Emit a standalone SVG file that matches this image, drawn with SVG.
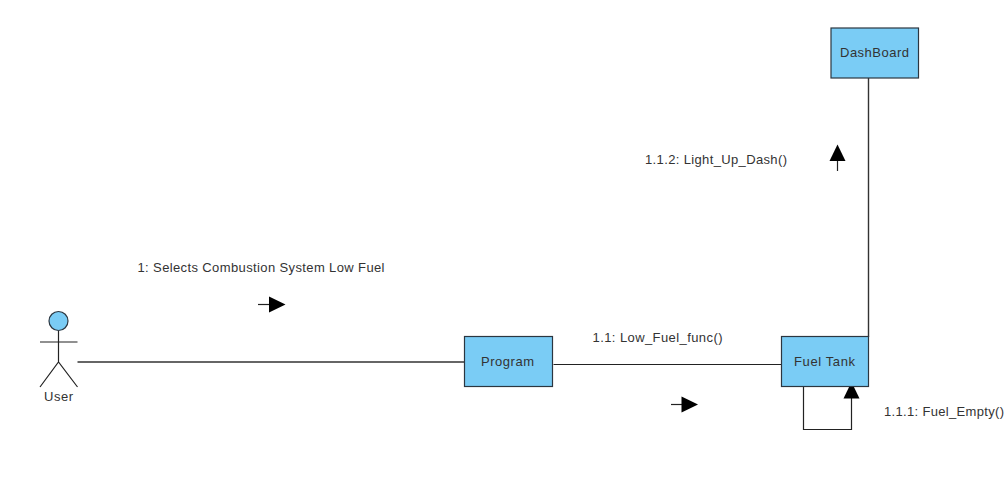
<svg xmlns="http://www.w3.org/2000/svg" width="1008" height="477" viewBox="0 0 1008 477">
<style>
text{font-family:"Liberation Sans",Arial,sans-serif;font-size:13px;fill:#333}
.n{fill:#7accf5;stroke:#2b3640;stroke-width:1.2}
.l{fill:none;stroke:#333;stroke-width:1.4}
.k{fill:none;stroke:#222;stroke-width:1.2}
.a{fill:#000;stroke:none}
</style>
<rect width="1008" height="477" fill="#fff"/>
<g id="connectors">
<path class="l" d="M77.500 362H464.500"/>
<path class="k" d="M553.500 364.500H781"/>
<path class="l" d="M868.500 78V337"/>
<path class="k" d="M803.500 387V429.500H851.500V384"/>
<path class="a" d="M851.500 382L859.500 398.500H843.500Z"/>
</g>
<g id="actor-user">
<circle class="n" cx="58.500" cy="321" r="9.500"/>
<path class="k" d="M58.500 331V362M40 342H77.500M40 387L58.500 362L77.500 387"/>
<text x="44" y="401" textLength="29" lengthAdjust="spacing">User</text>
</g>
<g id="node-program">
<rect class="n" x="464.500" y="336.500" width="88" height="50"/>
<text x="481" y="366" textLength="53" lengthAdjust="spacing">Program</text>
</g>
<g id="node-fuel-tank">
<rect class="n" x="781.500" y="336.500" width="87" height="50"/>
<text x="794" y="366" textLength="61" lengthAdjust="spacing">Fuel Tank</text>
</g>
<g id="node-dashboard">
<rect class="n" x="831" y="28" width="87.500" height="50"/>
<text x="840" y="56.500" textLength="69" lengthAdjust="spacing">DashBoard</text>
</g>
<g id="message-1">
<text x="137.500" y="272" textLength="247" lengthAdjust="spacing">1: Selects Combustion System Low Fuel</text>
<path class="k" d="M258 304.500H270"/>
<path class="a" d="M285.500 304.500L269 296.500V312.500Z"/>
</g>
<g id="message-1-1">
<text x="592.500" y="342" textLength="130" lengthAdjust="spacing">1.1: Low_Fuel_func()</text>
<path class="k" d="M671 404.500H683"/>
<path class="a" d="M698 404.500L681.500 396.500V412.500Z"/>
</g>
<g id="message-1-1-1">
<text x="884" y="416" textLength="120" lengthAdjust="spacing">1.1.1: Fuel_Empty()</text>
</g>
<g id="message-1-1-2">
<text x="645" y="164" textLength="142" lengthAdjust="spacing">1.1.2: Light_Up_Dash()</text>
<path class="k" d="M837.500 171V158"/>
<path class="a" d="M837.500 144.500L829.500 161H845.500Z"/>
</g>
</svg>
